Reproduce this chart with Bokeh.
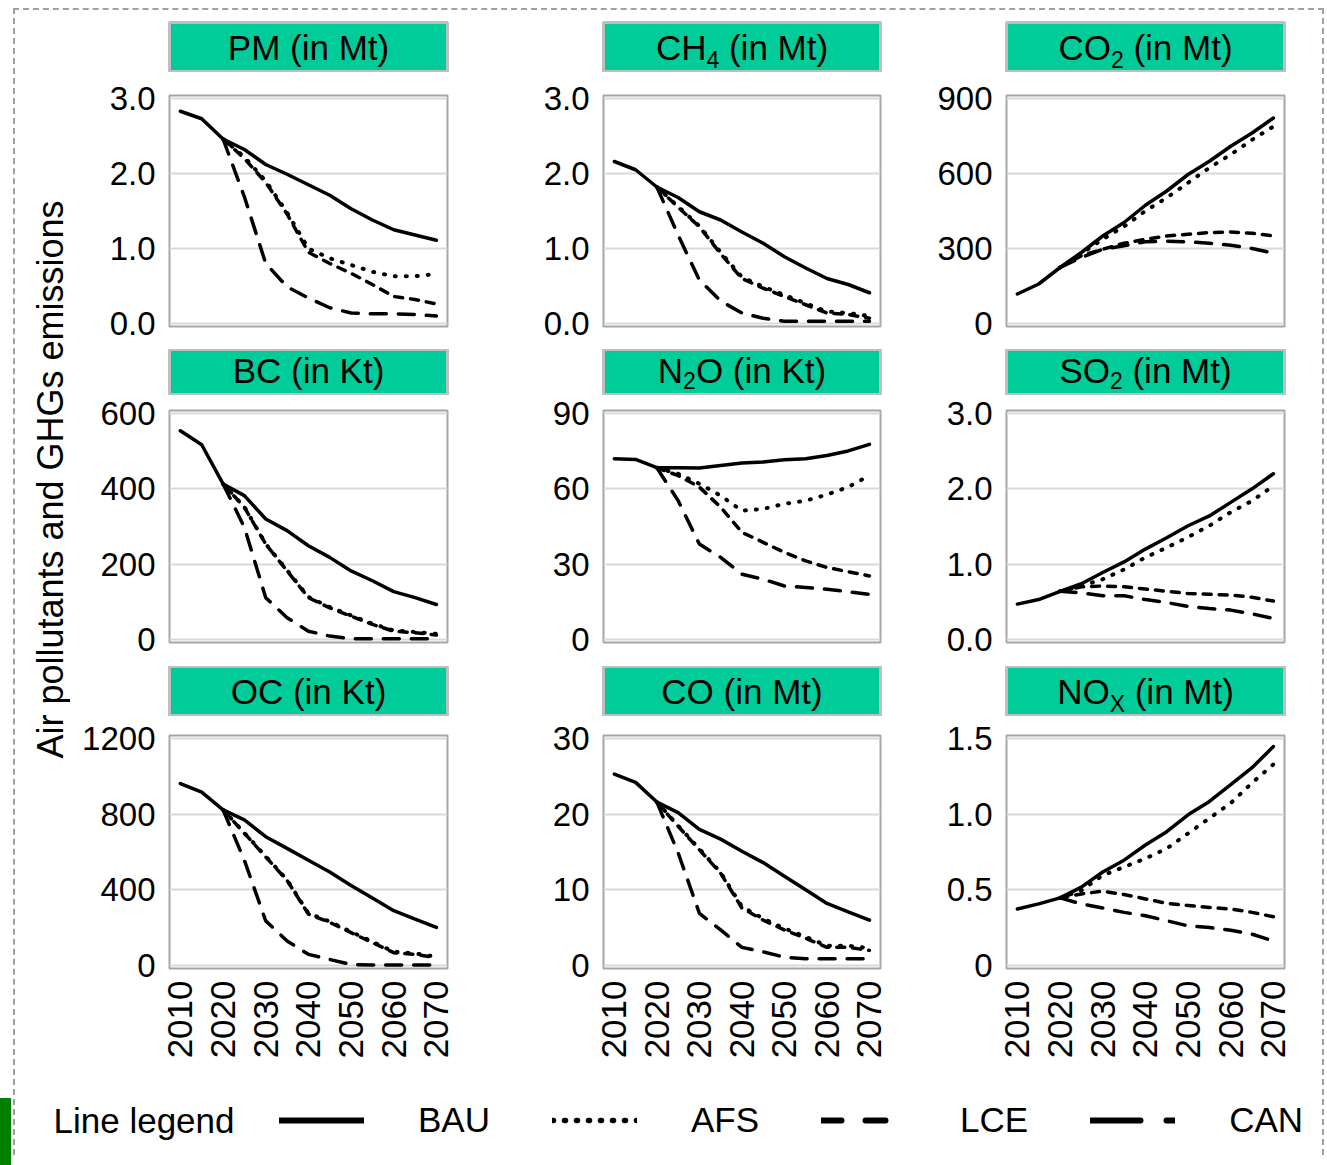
import numpy as np
from bokeh.plotting import figure
from bokeh.models import Range1d, FixedTicker, Label, Legend, LegendItem, Div
from bokeh.layouts import row, column
from bokeh.embed import file_html
from bokeh.resources import INLINE

# ---------------- data ----------------
years = [2010, 2015, 2020, 2025, 2030, 2035, 2040, 2045, 2050, 2055, 2060, 2065, 2070]
scen_years = [2020, 2025, 2030, 2035, 2040, 2045, 2050, 2055, 2060, 2065, 2070]
x_ticks = [2010, 2020, 2030, 2040, 2050, 2060, 2070]
x_tick_labels = ["2010", "2020", "2030", "2040", "2050", "2060", "2070"]

pm_bau = [2.83, 2.73, 2.46, 2.32, 2.12, 1.99, 1.85, 1.71, 1.53, 1.38, 1.25, 1.18, 1.11]
pm_afs = [2.46, 2.22, 1.90, 1.48, 1.00, 0.87, 0.78, 0.69, 0.63, 0.63, 0.66]
pm_lce = [2.46, 2.20, 1.88, 1.46, 0.95, 0.80, 0.67, 0.52, 0.36, 0.32, 0.26]
pm_can = [2.46, 1.69, 0.80, 0.49, 0.34, 0.21, 0.14, 0.13, 0.13, 0.12, 0.10]

ch4_bau = [2.16, 2.05, 1.82, 1.68, 1.49, 1.38, 1.22, 1.07, 0.89, 0.74, 0.60, 0.52, 0.41]
ch4_afs = [1.82, 1.56, 1.30, 0.95, 0.62, 0.49, 0.38, 0.27, 0.16, 0.14, 0.10]
ch4_lce = [1.82, 1.55, 1.29, 0.93, 0.60, 0.47, 0.36, 0.25, 0.14, 0.12, 0.07]
ch4_can = [1.82, 1.18, 0.58, 0.30, 0.14, 0.07, 0.03, 0.03, 0.03, 0.03, 0.03]

co2_bau = [118, 158, 224, 284, 350, 404, 473, 530, 596, 649, 709, 762, 822]
co2_afs = [224, 280, 337, 388, 450, 503, 563, 623, 676, 735, 788]
co2_lce = [224, 271, 297, 321, 337, 350, 357, 364, 366, 361, 350]
co2_can = [224, 264, 297, 311, 327, 329, 327, 321, 313, 300, 281]

bc_bau = [554, 517, 413, 382, 320, 289, 249, 218, 182, 156, 127, 111, 93]
bc_afs = [413, 352, 254, 184, 113, 86, 64, 42, 24, 20, 15]
bc_lce = [413, 351, 253, 182, 111, 84, 62, 40, 22, 18, 12]
bc_can = [413, 298, 111, 58, 22, 9, 2, 2, 2, 2, 2]

n2o_bau = [72.0, 71.7, 68.4, 68.4, 68.3, 69.3, 70.3, 70.7, 71.6, 72.0, 73.3, 75.1, 77.7]
n2o_afs = [68.4, 66.0, 62.0, 57.3, 51.3, 52.0, 54.0, 55.3, 57.7, 60.7, 65.3]
n2o_lce = [68.4, 65.3, 60.7, 52.7, 42.7, 38.7, 34.7, 31.3, 28.7, 27.0, 25.3]
n2o_can = [68.4, 55.3, 38.0, 32.7, 26.0, 24.0, 21.3, 20.7, 20.0, 19.0, 18.0]

so2_bau = [0.47, 0.53, 0.64, 0.74, 0.89, 1.03, 1.20, 1.35, 1.51, 1.64, 1.82, 2.00, 2.20]
so2_afs = [0.64, 0.71, 0.80, 0.93, 1.09, 1.22, 1.36, 1.51, 1.69, 1.84, 2.04]
so2_lce = [0.64, 0.70, 0.71, 0.70, 0.67, 0.64, 0.61, 0.60, 0.59, 0.56, 0.51]
so2_can = [0.64, 0.62, 0.58, 0.58, 0.53, 0.49, 0.44, 0.41, 0.39, 0.34, 0.28]

oc_bau = [962, 916, 823, 770, 681, 619, 556, 494, 423, 357, 290, 245, 201]
oc_afs = [823, 701, 577, 453, 276, 232, 178, 126, 73, 64, 46]
oc_lce = [823, 699, 574, 450, 272, 228, 174, 121, 68, 59, 41]
oc_can = [823, 556, 236, 130, 59, 32, 5, 3, 3, 3, 3]

co_bau = [25.3, 24.2, 21.6, 20.2, 18.0, 16.7, 15.1, 13.6, 11.8, 10.0, 8.2, 7.1, 6.0]
co_afs = [21.6, 18.5, 15.4, 12.3, 7.8, 6.2, 4.9, 3.8, 2.6, 2.6, 2.3]
co_lce = [21.6, 18.4, 15.3, 12.2, 7.6, 6.0, 4.7, 3.6, 2.4, 2.4, 2.0]
co_can = [21.6, 14.9, 6.9, 4.7, 2.4, 1.8, 1.1, 0.9, 0.9, 0.9, 0.9]

nox_bau = [0.373, 0.407, 0.447, 0.518, 0.618, 0.696, 0.796, 0.884, 0.996, 1.084, 1.196, 1.307, 1.447]
nox_afs = [0.447, 0.496, 0.596, 0.651, 0.707, 0.773, 0.873, 0.973, 1.073, 1.207, 1.329]
nox_lce = [0.447, 0.473, 0.491, 0.469, 0.440, 0.411, 0.396, 0.384, 0.373, 0.351, 0.322]
nox_can = [0.447, 0.407, 0.380, 0.351, 0.329, 0.296, 0.262, 0.251, 0.233, 0.207, 0.162]

title_main = ["PM", "CH", "CO", "BC", "N", "SO", "OC", "CO", "NO"]
title_sub = ["", "4", "2", "", "2", "2", "", "", "X"]
title_rest = [" (in Mt)", " (in Mt)", " (in Mt)", " (in Kt)", "O (in Kt)", " (in Mt)",
              " (in Kt)", " (in Mt)", " (in Mt)"]

y_ticks = [[0, 1, 2, 3], [0, 1, 2, 3], [0, 300, 600, 900],
           [0, 200, 400, 600], [0, 30, 60, 90], [0, 1, 2, 3],
           [0, 400, 800, 1200], [0, 10, 20, 30], [0, 0.5, 1.0, 1.5]]
y_tick_labels = [["0.0", "1.0", "2.0", "3.0"], ["0.0", "1.0", "2.0", "3.0"], ["0", "300", "600", "900"],
                 ["0", "200", "400", "600"], ["0", "30", "60", "90"], ["0.0", "1.0", "2.0", "3.0"],
                 ["0", "400", "800", "1200"], ["0", "10", "20", "30"], ["0", "0.5", "1.0", "1.5"]]

bau_series = [pm_bau, ch4_bau, co2_bau, bc_bau, n2o_bau, so2_bau, oc_bau, co_bau, nox_bau]
afs_series = [pm_afs, ch4_afs, co2_afs, bc_afs, n2o_afs, so2_afs, oc_afs, co_afs, nox_afs]
lce_series = [pm_lce, ch4_lce, co2_lce, bc_lce, n2o_lce, so2_lce, oc_lce, co_lce, nox_lce]
can_series = [pm_can, ch4_can, co2_can, bc_can, n2o_can, so2_can, oc_can, co_can, nox_can]

scenario_names = ["BAU", "AFS", "LCE", "CAN"]
y_title = "Air pollutants and GHGs emissions"
legend_title = "Line legend"

# ---------------- styling / geometry ----------------
FONT = "Liberation Sans"
GREEN = "#00CC99"
TITLE_FS = 35
SUB_FS = 23

# Arial/Liberation Sans advance widths (1/1000 em)
AW = {' ': 278, '(': 333, ')': 333, 'i': 222, 'n': 556, 't': 278, 'M': 833, 'K': 667,
      'P': 667, 'C': 722, 'H': 722, 'O': 778, 'B': 667, 'N': 722, 'S': 667, 'X': 667,
      '2': 556, '4': 556}


def tw(s, size):
    return sum(AW.get(c, 556) for c in s) / 1000.0 * size


# per column: (min_border_left, frame width, min_border_right)
COLS = [(99, 278, 10), (146, 277, 10), (116, 278, 38)]
# per row: header top border, header height, plot top border, plot frame height, plot bottom border
HEAD_TOP = [12, 0, 0]
HEAD_H = [50, 46, 50]
PLOT_TOP = [23, 15, 19]
PLOT_H = [231, 232, 233]
PLOT_BOT = [23, 24, 100]
BASE_MAIN = [12, 12, 12]
BASE_SUB = [4, 6, 4]
MID = 0.37  # distance from "middle" anchor to baseline, in em


def make_header(k, ci, ri):
    L, FW, R = COLS[ci]
    top = HEAD_TOP[ri]
    h = figure(width=L + FW + R, height=top + HEAD_H[ri], x_range=Range1d(0, 1), y_range=Range1d(0, 1),
               output_backend="svg", toolbar_location=None, x_axis_location=None, y_axis_location=None,
               min_border_left=L, min_border_right=R, min_border_top=top, min_border_bottom=0)
    h.background_fill_color = GREEN
    h.border_fill_color = "white"
    h.outline_line_color = "#BFBFBF"
    h.outline_line_width = 3
    h.grid.visible = False
    main, sub, rest = title_main[k], title_sub[k], title_rest[k]
    total = tw(main, TITLE_FS) + tw(sub, SUB_FS) + tw(rest, TITLE_FS)
    x0 = FW / 2.0 - total / 2.0
    base_main = BASE_MAIN[ri]
    base_sub = BASE_SUB[ri]
    common = dict(x_units="screen", y_units="screen", text_font=FONT, text_color="black",
                  text_baseline="middle", text_align="left")
    h.add_layout(Label(x=x0, y=base_main + MID * TITLE_FS, text=main,
                       text_font_size=f"{TITLE_FS}px", **common))
    x1 = x0 + tw(main, TITLE_FS)
    if sub:
        h.add_layout(Label(x=x1, y=base_sub + MID * SUB_FS, text=sub,
                           text_font_size=f"{SUB_FS}px", **common))
    x2 = x1 + tw(sub, SUB_FS)
    lead = len(rest) - len(rest.lstrip(" "))
    x2 += tw(" " * lead, TITLE_FS)
    h.add_layout(Label(x=x2, y=base_main + MID * TITLE_FS, text=rest.lstrip(" "),
                       text_font_size=f"{TITLE_FS}px", **common))
    return h


def make_plot(k, ci, ri):
    L, FW, R = COLS[ci]
    top, fh, bot = PLOT_TOP[ri], PLOT_H[ri], PLOT_BOT[ri]
    ticks = y_ticks[k]
    ymax = ticks[-1]
    pad = 3.0 / (fh - 6) * ymax
    p = figure(width=L + FW + R, height=top + fh + bot,
               x_range=Range1d(2007.45, 2072.6), y_range=Range1d(-pad, ymax + pad),
               output_backend="svg", toolbar_location=None,
               x_axis_location="below" if ri == 2 else None,
               min_border_left=L, min_border_right=R, min_border_top=top, min_border_bottom=bot)
    p.background_fill_color = "white"
    p.border_fill_color = "white"
    p.outline_line_color = "#A6A6A6"
    p.outline_line_width = 2
    p.xgrid.visible = False
    p.ygrid.grid_line_color = "#D9D9D9"
    p.ygrid.grid_line_width = 2

    yax = p.yaxis[0]
    yax.ticker = FixedTicker(ticks=ticks)
    yax.major_label_overrides = {t: lab for t, lab in zip(ticks, y_tick_labels[k])}
    yax.axis_line_color = None
    yax.major_tick_line_color = None
    yax.minor_tick_line_color = None
    yax.major_tick_out = 0
    yax.major_label_standoff = 14
    yax.major_label_text_font = FONT
    yax.major_label_text_font_size = "33px"
    yax.major_label_text_color = "black"
    p.ygrid.ticker = FixedTicker(ticks=ticks)

    if ri == 2:
        xax = p.xaxis[0]
        xax.ticker = FixedTicker(ticks=x_ticks)
        xax.major_label_overrides = {t: lab for t, lab in zip(x_ticks, x_tick_labels)}
        xax.major_label_orientation = np.pi / 2
        xax.axis_line_color = None
        xax.major_tick_line_color = None
        xax.minor_tick_line_color = None
        xax.major_tick_out = 0
        xax.major_label_standoff = 12
        xax.major_label_text_font = FONT
        xax.major_label_text_font_size = "35px"
        xax.major_label_text_color = "black"

    p.line(scen_years, can_series[k], line_color="black", line_width=3.5, line_dash="16 12",
           line_cap="round", line_join="round")
    p.line(scen_years, lce_series[k], line_color="black", line_width=3.5, line_dash="8 8",
           line_cap="round", line_join="round")
    p.line(scen_years, afs_series[k], line_color="black", line_width=4, line_dash="1 10",
           line_cap="round", line_join="round")
    p.line(years, bau_series[k], line_color="black", line_width=3.5, line_cap="round", line_join="round")
    return p


columns = []
for ci in range(3):
    kids = []
    for ri in range(3):
        k = ri * 3 + ci
        kids.append(make_header(k, ci, ri))
        kids.append(make_plot(k, ci, ri))
    columns.append(column(*kids, spacing=0))

total_h = sum(HEAD_TOP) + sum(HEAD_H) + sum(PLOT_TOP) + sum(PLOT_H) + sum(PLOT_BOT)

strip = figure(width=55, height=total_h, x_range=Range1d(0, 1), y_range=Range1d(0, 1),
               output_backend="svg", toolbar_location=None, x_axis_location=None, y_axis_location=None,
               min_border=0)
strip.outline_line_color = None
strip.grid.visible = False
strip.add_layout(Label(x=35, y=total_h - 469, x_units="screen", y_units="screen", text=y_title,
                       angle=np.pi / 2, text_align="center", text_baseline="middle",
                       text_font=FONT, text_font_size="36px", text_color="black"))

grid_row = row(strip, *columns, spacing=0)

content_w = 55 + sum(a + b + c for a, b, c in COLS)

leg = figure(width=content_w, height=87, x_range=Range1d(0, 1), y_range=Range1d(0, 1),
             output_backend="svg", toolbar_location=None, x_axis_location=None, y_axis_location=None,
             min_border=0)
leg.outline_line_color = None
leg.grid.visible = False
nan2 = [float("nan"), float("nan")]
r_bau = leg.line(x=nan2, y=nan2, line_color="black", line_width=6, line_cap="round")
r_afs = leg.line(x=nan2, y=nan2, line_color="black", line_width=5.5, line_dash="1 11", line_cap="round")
r_lce = leg.line(x=nan2, y=nan2, line_color="black", line_width=6, line_dash="20 24", line_cap="round")
r_can = leg.line(x=nan2, y=nan2, line_color="black", line_width=6, line_dash="50 26 8 40", line_cap="round")
items = [LegendItem(label=n, renderers=[r]) for n, r in zip(scenario_names, [r_bau, r_afs, r_lce, r_can])]
legend = Legend(items=items, location=(264, 15), orientation="horizontal",
                glyph_width=85, glyph_height=40, label_height=40, label_standoff=54, spacing=62,
                padding=0, margin=0, border_line_color=None, background_fill_alpha=0,
                label_text_font=FONT, label_text_font_size="35px", label_text_color="black")
leg.add_layout(legend)
leg.add_layout(Label(x=38, y=35, x_units="screen", y_units="screen", text=legend_title,
                     text_baseline="middle", text_align="left",
                     text_font=FONT, text_font_size="35px", text_color="black"))

green_bar = Div(text="", width=12, height=68,
                styles={"position": "fixed", "left": "-6px", "top": "1093px", "background-color": "#008000"})

root = column(grid_row, leg, green_bar, spacing=0,
              styles={"border-top": "2px dashed #A0A0A0", "border-left": "2px dashed #A0A0A0",
                      "border-right": "2px dashed #A0A0A0"},
              margin=(8, 0, 0, 13))

open("out.html", "w").write(file_html(root, INLINE))
